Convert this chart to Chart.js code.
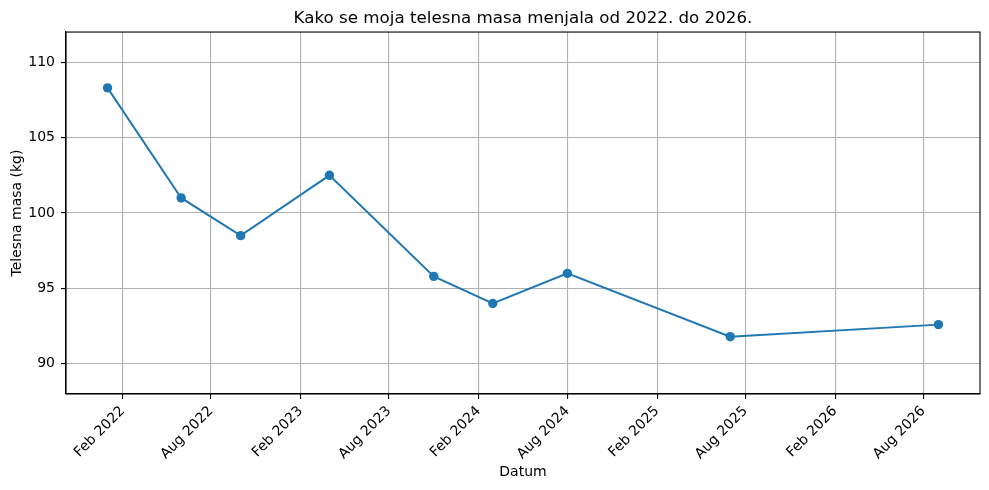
<!DOCTYPE html>
<html>
<head>
<meta charset="utf-8">
<script src="https://cdn.jsdelivr.net/npm/chart.js@4/dist/chart.umd.min.js"></script>
<style>
  html, body { margin: 0; padding: 0; background: #fff; }
  canvas { display: block; }
</style>
</head>
<body>
<canvas id="weightChart" width="989" height="490"></canvas>
<script>
// measurement dates and weights (kg)
const dates = ['2022-01-01', '2022-06-01', '2022-10-01', '2023-04-01', '2023-11-01',
               '2024-03-01', '2024-08-01', '2025-07-01', '2026-09-01'];
const weights = [108.3, 101.0, 98.5, 102.5, 95.8, 94.0, 96.0, 91.8, 92.6];

const tickDates = ['2022-02-01', '2022-08-01', '2023-02-01', '2023-08-01', '2024-02-01',
                   '2024-08-01', '2025-02-01', '2025-08-01', '2026-02-01', '2026-08-01'];
const tickLabels = ['Feb 2022', 'Aug 2022', 'Feb 2023', 'Aug 2023', 'Feb 2024',
                    'Aug 2024', 'Feb 2025', 'Aug 2025', 'Feb 2026', 'Aug 2026'];
const yTicks = [90, 95, 100, 105, 110];

// no date adapter offline, so dates become days since the first measurement
const dayOf = (s) => {
    const [y, m, d] = s.split('-').map(Number);
    return (Date.UTC(y, m - 1, d) - Date.UTC(2022, 0, 1)) / 864e5;
};

const days = dates.map(dayOf);
const tickDays = tickDates.map(dayOf);
const span = days[days.length - 1] - days[0];
const xMin = days[0] - span * 0.05;
const xMax = days[days.length - 1] + span * 0.05;

const font = { family: 'DejaVu Sans', size: 14 };
const blue = '#1f77b4';

const frame = {
    id: 'frame',
    afterDraw(chart) {
        const { ctx, chartArea: a } = chart;
        ctx.save();
        ctx.strokeStyle = '#000';
        ctx.lineWidth = 1.1;
        ctx.strokeRect(a.left, a.top, a.right - a.left, a.bottom - a.top);
        ctx.restore();
    }
};

new Chart(document.getElementById('weightChart'), {
    type: 'line',
    data: {
        datasets: [{
            data: days.map((d, i) => ({ x: d, y: weights[i] })),
            borderColor: blue,
            backgroundColor: blue,
            borderWidth: 2,
            pointRadius: 4.7,
            pointBorderWidth: 0,
            pointBackgroundColor: blue,
            tension: 0
        }]
    },
    options: {
        responsive: false,
        animation: false,
        devicePixelRatio: 1,
        layout: { padding: { left: 8, right: 9, top: 0, bottom: 8 } },
        plugins: {
            legend: { display: false },
            tooltip: { enabled: false },
            title: {
                display: true,
                fullSize: false,
                text: 'Kako se moja telesna masa menjala od 2022. do 2026.',
                color: '#000',
                font: { family: 'DejaVu Sans', size: 16.7, weight: 'normal' },
                padding: { top: 9, bottom: 3 }
            }
        },
        scales: {
            x: {
                type: 'linear',
                min: xMin,
                max: xMax,
                afterBuildTicks: (s) => { s.ticks = tickDays.map(v => ({ value: v })); },
                afterFit: (s) => { s.height = 490 - 8 - 394; },
                ticks: {
                    color: '#000',
                    font: font,
                    padding: 4,
                    minRotation: 45,
                    maxRotation: 45,
                    autoSkip: false,
                    callback: (v) => tickLabels[tickDays.indexOf(v)]
                },
                grid: { color: '#b0b0b0', lineWidth: 1.1, tickColor: '#000', tickLength: 5, tickWidth: 1.1 },
                border: { color: '#000', width: 1.1 },
                title: { display: true, text: 'Datum', color: '#000', font: font, padding: { top: 0, bottom: 1 } }
            },
            y: {
                min: 88,
                max: 112,
                afterBuildTicks: (s) => { s.ticks = yTicks.map(v => ({ value: v })); },
                afterFit: (s) => { s.width = 66 - 8; },
                ticks: { color: '#000', font: font, padding: 6 },
                grid: { color: '#b0b0b0', lineWidth: 1.1, tickColor: '#000', tickLength: 5, tickWidth: 1.1 },
                border: { color: '#000', width: 1.1 },
                title: { display: true, text: 'Telesna masa (kg)', color: '#000', font: font, padding: { top: 1, bottom: 0 } }
            }
        }
    },
    plugins: [frame]
});
</script>
</body>
</html>
